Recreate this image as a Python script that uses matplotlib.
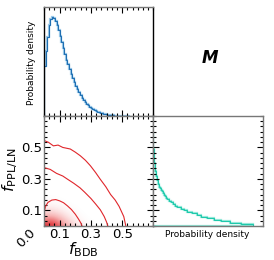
import numpy as np
import matplotlib
matplotlib.use('Agg')
import matplotlib.pyplot as plt
from matplotlib.ticker import FixedLocator, MultipleLocator, NullFormatter
from matplotlib.colors import LinearSegmentedColormap

# marginal of f_BDB (normalised to peak), bins of 0.01
bdb_width = 0.01
bdb_density = [0.50, 0.66, 0.80, 0.92, 0.98, 1.00, 0.99, 0.96, 0.92, 0.87,
               0.81, 0.75, 0.69, 0.63, 0.57, 0.52, 0.47, 0.42, 0.38, 0.34,
               0.30, 0.27, 0.24, 0.21, 0.185, 0.165, 0.145, 0.125, 0.11, 0.095,
               0.082, 0.07, 0.06, 0.051, 0.044, 0.037, 0.031, 0.026, 0.022, 0.018,
               0.015, 0.012, 0.01, 0.008, 0.0065, 0.005, 0.004, 0.003, 0.0025, 0.002,
               0.0015, 0.001, 0.0008, 0.0006, 0.0004]

# marginal of f_PPL/LN, bins of 0.01
ppl_width = 0.01
ppl_density = [0.91, 0.80, 0.70, 0.62, 0.55, 0.49, 0.44, 0.40, 0.35, 0.31,
               0.28, 0.25, 0.22, 0.20, 0.18, 0.16, 0.145, 0.13, 0.117, 0.107,
               0.097, 0.088, 0.079, 0.071, 0.064, 0.058, 0.053, 0.048, 0.044, 0.04,
               0.036, 0.033, 0.03, 0.027, 0.024, 0.022, 0.02, 0.018, 0.016, 0.015,
               0.013, 0.012, 0.011, 0.01, 0.009, 0.008, 0.007, 0.006, 0.005, 0.0045,
               0.004, 0.0035, 0.003, 0.0025, 0.002, 0.0015, 0.001, 0.0007, 0.0004, 0.0002]

# joint density near the origin (rows: f_PPL/LN, cols: f_BDB)
joint_x = [0.0, 0.05, 0.10, 0.15, 0.20, 0.25, 0.30]
joint_y = [0.0, 0.05, 0.10, 0.15, 0.20]
joint_z = [[0.80, 0.95, 0.65, 0.35, 0.16, 0.06, 0.01],
           [0.40, 0.45, 0.30, 0.14, 0.05, 0.01, 0.00],
           [0.12, 0.12, 0.08, 0.03, 0.01, 0.00, 0.00],
           [0.02, 0.02, 0.01, 0.00, 0.00, 0.00, 0.00],
           [0.00, 0.00, 0.00, 0.00, 0.00, 0.00, 0.00]]

# credible contours
c1_x = [0, 0.01, 0.025, 0.05, 0.075, 0.10, 0.125, 0.15, 0.175, 0.20, 0.22, 0.235, 0.243]
c1_y = [0.085, 0.125, 0.15, 0.165, 0.168, 0.16, 0.148, 0.128, 0.105, 0.075, 0.045, 0.02, 0]
c2_x = [0, 0.04, 0.08, 0.12, 0.15, 0.19, 0.23, 0.26, 0.30, 0.33, 0.36, 0.385, 0.40, 0.408]
c2_y = [0.372, 0.36, 0.335, 0.318, 0.298, 0.272, 0.243, 0.215, 0.175, 0.14, 0.103, 0.06, 0.025, 0]
c3_x = [0, 0.028, 0.06, 0.09, 0.12, 0.168, 0.20, 0.232, 0.265, 0.297, 0.33, 0.36, 0.395,
        0.426, 0.455, 0.48, 0.51, 0.523]
c3_y = [0.544, 0.533, 0.51, 0.515, 0.50, 0.49, 0.47, 0.447, 0.418, 0.383, 0.34, 0.297, 0.25,
        0.2, 0.165, 0.125, 0.06, 0]

ticks = [0.1, 0.3, 0.5]
tick_labels = ['0.1', '0.3', '0.5']
lim = 0.70

spine_col = '#777777'
blue = '#1f6fb2'
blue_light = '#9ccaea'
teal = '#1fc9ac'
teal_light = '#9aeadb'
red = '#e0262b'

fig = plt.figure(figsize=(2.74, 2.60), dpi=100)
ax_top = fig.add_axes([0.1606, 0.5538, 0.3996, 0.4192])
ax_joint = fig.add_axes([0.1606, 0.1308, 0.3996, 0.4230])
ax_right = fig.add_axes([0.5584, 0.1308, 0.4015, 0.4230])


def style(ax):
    for s in ax.spines.values():
        s.set_color(spine_col)
        s.set_linewidth(1.0)
    ax.tick_params(which='both', direction='in', width=0.8, color='black')
    ax.tick_params(which='major', length=4)
    ax.tick_params(which='minor', length=2.2)


# top marginal
bdb_edges = np.arange(len(bdb_density) + 1) * bdb_width
ax_top.stairs(bdb_density, bdb_edges, color=blue_light, lw=1.6)
ax_top.stairs(bdb_density, bdb_edges, color=blue, lw=0.8)
ax_top.set_xlim(0, lim)
ax_top.set_ylim(0, 1.1)
style(ax_top)
ax_top.spines['left'].set_color('black')
ax_top.spines['right'].set_color('black')
ax_top.xaxis.set_major_locator(FixedLocator(ticks))
ax_top.xaxis.set_minor_locator(MultipleLocator(1 / 30))
ax_top.xaxis.set_major_formatter(NullFormatter())
ax_top.set_yticks([])
ax_top.tick_params(axis='x', which='both', top=True, bottom=True)
ax_top.set_ylabel('Probability density', fontsize=6.5, labelpad=2)
ax_top.yaxis.set_label_coords(-0.07, 0.49)

# joint
cmap = LinearSegmentedColormap.from_list('wr', ['#ffffff', '#f7b5b5', '#e8575a', '#cc1018'])
dx = joint_x[1] - joint_x[0]
dy = joint_y[1] - joint_y[0]
ax_joint.imshow(np.array(joint_z), origin='lower', cmap=cmap, vmin=0, vmax=1.0,
                interpolation='bicubic', aspect='auto',
                extent=[joint_x[0] - dx / 2, joint_x[-1] + dx / 2,
                        joint_y[0] - dy / 2, joint_y[-1] + dy / 2])
for cx, cy in [(c1_x, c1_y), (c2_x, c2_y), (c3_x, c3_y)]:
    ax_joint.plot(cx, cy, color=red, lw=0.8)
ax_joint.set_xlim(0, lim)
ax_joint.set_ylim(0, lim)
style(ax_joint)
for axis in (ax_joint.xaxis, ax_joint.yaxis):
    axis.set_major_locator(FixedLocator(ticks))
    axis.set_minor_locator(MultipleLocator(1 / 30))
ax_joint.set_xticklabels(tick_labels)
ax_joint.set_yticklabels(tick_labels)
ax_joint.tick_params(which='both', top=True, right=True, labelsize=9.5, pad=1.5)
ax_joint.text(-0.16, -0.11, '0.0', transform=ax_joint.transAxes, rotation=45,
              ha='center', va='center', fontsize=9.5)
ax_joint.text(0.36, -0.215, r'$f_{\rm BDB}$', transform=ax_joint.transAxes,
              ha='center', va='center', fontsize=11.5)
ax_joint.text(-0.31, 0.51, r'$f_{\rm PPL/LN}$', transform=ax_joint.transAxes,
              ha='center', va='center', fontsize=11.5, rotation=90)

# right marginal
ppl_edges = np.arange(len(ppl_density) + 1) * ppl_width
ax_right.stairs(ppl_density, ppl_edges, orientation='horizontal', color=teal_light, lw=1.6)
ax_right.stairs(ppl_density, ppl_edges, orientation='horizontal', color=teal, lw=0.8)
ax_right.set_xlim(0, 1.0)
ax_right.set_ylim(0, lim)
style(ax_right)
ax_right.yaxis.set_major_locator(FixedLocator(ticks))
ax_right.yaxis.set_minor_locator(MultipleLocator(1 / 30))
ax_right.yaxis.set_major_formatter(NullFormatter())
ax_right.set_xticks([])
ax_right.tick_params(axis='y', which='both', left=True, right=True)
ax_right.text(0.49, -0.08, 'Probability density', transform=ax_right.transAxes,
              ha='center', va='center', fontsize=6.5)

fig.text(0.766, 0.777, 'M', fontsize=12, fontweight='bold', fontstyle='italic',
         ha='center', va='center')

fig.savefig('out.png', dpi=100)
